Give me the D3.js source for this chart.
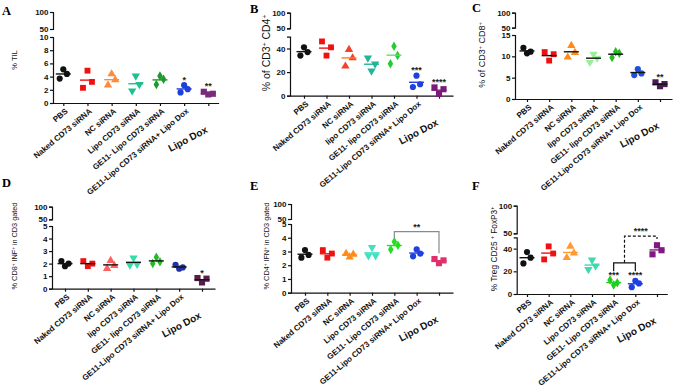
<!DOCTYPE html>
<html><head><meta charset="utf-8">
<script src="https://cdn.jsdelivr.net/npm/d3@7"></script>
<style>body{margin:0;background:#fff}svg{display:block}</style>
</head><body><svg id="c" width="676" height="388"></svg>
<script>
// ---------- DATA ----------
const labelsUpperL = ["PBS","Naked CD73 siRNA","NC siRNA","Lipo CD73 siRNA","GE11- Lipo CD73 siRNA","GE11-Lipo CD73 siRNA+ Lipo Dox","Lipo Dox"];
const labelsLowerL = ["PBS","Naked CD73 siRNA","NC siRNA","lipo CD73 siRNA","GE11- lipo CD73 siRNA","GE11-Lipo CD73 siRNA+ Lipo Dox","Lipo Dox"];

const valuesA = [[3.7,5.1,4.4],[2.3,4.9,3.2],[2.7,4.4,3.5],[1.85,4.1,2.8],[2.8,4.1,3.6],[1.6,2.7,2.1],[1.7,1.3,1.4]];
const valuesB = [[34,41,37],[46,34,41],[25,39,32],[32,21,27],[27,42,34],[7.4,17,9.7],[7,1.5,5.5]];
const valuesC = [[12,10.7,11.1],[11,9,10.5],[9.8,12.5,10.9],[8.6,10.5,9.6],[9.7,11.1,10.7],[5.6,7,6],[3.9,3.0,3.5]];
const valuesD = [[2.2,1.8,2.0],[2.2,1.8,2.0],[1.6,2.25,1.85],[1.9,2.45,1.95],[2.0,2.5,2.15],[1.9,1.6,1.7],[0.85,0.5,0.8]];
const valuesE = [[2.55,3.1,2.75],[3.1,2.55,2.85],[2.85,2.6,2.8],[2.7,3.3,2.7],[3.15,3.7,3.45],[2.65,3.15,2.85],[2.45,2.15,2.35]];
const valuesF = [[27,37,32],[30.5,42,35.7],[32,42,36],[21.7,30,24.8],[12.3,8,10],[6,11.7,9.3],[35,43,38.6]];

const ticksA = [0,2,4,6,8,10];
const ticksB = [0,20,40];
const ticksC = [0,5,10,15];
const ticksD = [0,1,2,3,4,5];
const ticksE = [0,1,2,3,4,5];
const ticksF = [0,20,40];
const ticksBreak = [50,100];

const starsA = ["","","","","","*","**"];
const starsB = ["","","","","","***","****"];
const starsC = ["","","","","","","**"];
const starsD = ["","","","","","","*"];
const starsE = ["","","","","","",""];
const starsF = ["","","","","***","****",""];

// comparison brackets (category indices, heights in data units)
const bracketsE = [{from:4,to:6,y:4.45,leftEnd:3.97,rightEnd:2.88,label:"**",dashed:false,color:"#8a8a8a"}];
const bracketsF = [
  {from:4,to:5,y:27.5,leftEnd:20,rightEnd:20,label:"",dashed:false,color:"#111"},
  {from:4.5,to:6,y:51,leftEnd:27.5,rightEnd:48.5,label:"****",dashed:true,color:"#111"}
];

// ---------- STYLE ----------
const colorsA = ["#111","#f01010","#ff8a3a","#1fbf8f","#1a9a2a","#1f3fdc","#7a2a7a"];
const colorsB = ["#111","#f01010","#f2402a","#22b59a","#22cc33","#1f3fe0","#7b1a7b"];
const meanB   = ["#111","#f01010","#ff7a20","#22b59a","#66dd66","#1f3fe0","#7b1a7b"];
const colorsC = ["#111","#f01010","#ff8c1a","#9aee9a","#22bb22","#1f4fe0","#4b1a5a"];
const colorsD = ["#111","#f01010","#ff6060","#33ddaa","#22bb22","#2030a8","#5a1a4a"];
const colorsE = ["#111","#f01010","#ff8c1a","#40e0c0","#22dd22","#2040e0","#e0306a"];
const colorsF = ["#111","#f01010","#ff9a30","#40d8b0","#22cc22","#1f3fe0","#801a80"];
const blacks = Array(7).fill("#111");

const SUP = s => ({t:s, sup:true});
const panels = [
 {letter:"A", lx:2, ly:15, labels:labelsUpperL, values:valuesA, ticks:ticksA, lowMax:10, colors:colorsA, means:colorsA, stars:starsA, brackets:[],
  title:[{t:"% TIL"}], ts:7.5, tx:17, ty:60, ax:53, x0:63.3, x1:208.3, y0:103, yTop:37, y50:29, y100:12},
 {letter:"B", lx:250, ly:13, labels:labelsLowerL, values:valuesB, ticks:ticksB, lowMax:50, colors:colorsB, means:meanB, stars:starsB, brackets:[],
  title:[{t:"% of CD3"},SUP("+"),{t:" CD4"},SUP("+")], ts:10.5, tx:270, ty:53, ax:290, x0:304, x1:439, y0:95.7, yTop:36.7, y50:28.3, y100:12.7},
 {letter:"C", lx:472, ly:12, labels:labelsLowerL, values:valuesC, ticks:ticksC, lowMax:15, colors:colorsC, means:blacks, stars:starsC, brackets:[],
  title:[{t:"% of CD3"},SUP("+"),{t:" CD8"},SUP("+")], ts:9, tx:485, ty:55, ax:515, x0:527, x1:660, y0:99, yTop:35, y50:27.7, y100:12.7},
 {letter:"D", lx:2, ly:187, labels:labelsLowerL, values:valuesD, ticks:ticksD, lowMax:5, colors:colorsD, means:blacks, stars:starsD, brackets:[],
  title:[{t:"% CD8"},SUP("+"),{t:" INF"},SUP("+"),{t:" in CD3 gated"}], ts:7.3, tx:17, ty:246, ax:52, x0:65, x1:202, y0:288.7, yTop:226, y50:219.3, y100:206.7},
 {letter:"E", lx:250, ly:190, labels:labelsUpperL, values:valuesE, ticks:ticksE, lowMax:5, colors:colorsE, means:colorsE, stars:starsE, brackets:bracketsE,
  title:[{t:"% CD4"},SUP("+"),{t:" IFN"},SUP("+"),{t:" in CD3 gated"}], ts:7.3, tx:269, ty:246, ax:291, x0:305, x1:439, y0:292.7, yTop:224, y50:219, y100:204},
 {letter:"F", lx:472, ly:190, labels:labelsUpperL, values:valuesF, ticks:ticksF, lowMax:50, colors:colorsF, means:colorsF, stars:starsF, brackets:bracketsF,
  title:[{t:"% Treg CD25 "},SUP("+"),{t:" FoxP3"},SUP("+")], ts:8.3, tx:497, ty:249, ax:516.7, x0:527, x1:657, y0:294, yTop:237.3, y50:233.3, y100:205.7}
];

const shapes = [d3.symbolCircle,d3.symbolSquare,d3.symbolTriangle,d3.symbolTriangle,d3.symbolDiamond,d3.symbolCircle,d3.symbolSquare];
const sizes  = [30,34,30,30,26,30,38];
const FONT = "'Liberation Sans', Arial, sans-serif";

const svg = d3.select("#c");
svg.append("rect").attr("width",676).attr("height",388).attr("fill","#fff");

panels.forEach(p => {
  const g = svg.append("g");
  const step = (p.x1 - p.x0) / 6, pad = (p.x0 - p.ax) / step;
  const x = d3.scalePoint().domain(d3.range(7)).range([p.ax, p.x1 + (p.x0 - p.ax)]).padding(pad);
  const yLow = d3.scaleLinear().domain([0, p.lowMax]).range([p.y0, p.yTop]);
  const yUp = d3.scaleLinear().domain([50, 100]).range([p.y50, p.y100]);
  const y = v => v <= p.lowMax ? yLow(v) : yUp(v);

  // panel letter
  g.append("text").attr("x", p.lx).attr("y", p.ly).text(p.letter)
    .attr("font-family","'Liberation Serif', 'Times New Roman', serif").attr("font-weight","bold").attr("font-size",12.5);

  // y axes (broken)
  const styleAxis = sel => {
    sel.selectAll("path,line").attr("stroke","#111").attr("stroke-width",1.2);
    sel.selectAll("text").attr("font-family",FONT).attr("font-weight","bold").attr("font-size",8).attr("fill","#111");
  };
  g.append("g").attr("transform",`translate(${p.ax},0)`)
    .call(d3.axisLeft(yLow).tickValues(p.ticks).tickFormat(d3.format("d")).tickSize(3).tickSizeOuter(3).tickPadding(1.5)).call(styleAxis);
  g.append("g").attr("transform",`translate(${p.ax},0)`)
    .call(d3.axisLeft(yUp).tickValues(ticksBreak).tickFormat(d3.format("d")).tickSize(3).tickSizeOuter(3).tickPadding(1.5)).call(styleAxis);

  // x axis
  g.append("g").attr("transform",`translate(0,${p.y0})`)
    .call(d3.axisBottom(x).tickSize(3).tickSizeOuter(0).tickFormat(""))
    .call(styleAxis);

  // y title
  const tt = g.append("text").attr("transform",`translate(${p.tx},${p.ty}) rotate(-90)`)
    .attr("text-anchor","middle").attr("font-family",FONT).attr("font-size",p.ts).attr("fill","#111");
  p.title.forEach(s => {
    const ts = tt.append("tspan").text(s.t);
    if (s.sup) ts.attr("baseline-shift","super").attr("font-size", p.ts*0.62);
  });

  // category labels
  p.labels.forEach((lab, i) => {
    const last = i === 6;
    g.append("text")
      .attr("transform", last ? `translate(${x(i)},${p.y0+29}) rotate(-28)` : `translate(${x(i)+5},${p.y0+9}) rotate(-40)`)
      .attr("text-anchor","end").attr("font-family",FONT).attr("font-weight","bold")
      .attr("font-size", last ? 10 : 8).attr("fill","#111").text(lab);
  });

  // points + means
  p.values.forEach((vals, i) => {
    const spread = (i === 6 || i === 1) ? 4.5 : 3.6;
    vals.forEach((v, j) => {
      const sym = d3.symbol().type(shapes[i]).size(sizes[i]);
      g.append("path").attr("d", sym())
        .attr("transform", `translate(${x(i) + (j-1)*spread},${y(v)})${i===3 ? " rotate(180)" : ""}`)
        .attr("fill", p.colors[i]);
    });
    const m = d3.mean(vals);
    g.append("line").attr("x1", x(i)-7.5).attr("x2", x(i)+7.5).attr("y1", y(m)).attr("y2", y(m))
      .attr("stroke", p.means[i]).attr("stroke-width", 1.4);
    if (p.stars[i]) {
      g.append("text").attr("x", x(i)).attr("y", y(d3.max(vals)) - 2.5)
        .attr("text-anchor","middle").attr("font-family",FONT).attr("font-weight","bold").attr("font-size",9)
        .attr("fill","#222").text(p.stars[i]);
    }
  });

  // brackets
  const xi = v => { const f = Math.floor(v), c = Math.ceil(v); return x(f) + (x(c) - x(f)) * (v - f); };
  p.brackets.forEach(b => {
    const yy = yLow(b.y);
    const path = d3.path();
    path.moveTo(xi(b.from), yLow(b.leftEnd)); path.lineTo(xi(b.from), yy);
    path.lineTo(xi(b.to), yy); path.lineTo(xi(b.to), yLow(b.rightEnd));
    g.append("path").attr("d", path.toString()).attr("fill","none").attr("stroke", b.color)
      .attr("stroke-width", 1.2).attr("stroke-dasharray", b.dashed ? "3,2" : null);
    if (b.label) g.append("text").attr("x", (xi(b.from)+xi(b.to))/2).attr("y", yy - 2)
      .attr("text-anchor","middle").attr("font-family",FONT).attr("font-weight","bold").attr("font-size",9)
      .attr("fill","#222").text(b.label);
  });
});
</script>
</body></html>
